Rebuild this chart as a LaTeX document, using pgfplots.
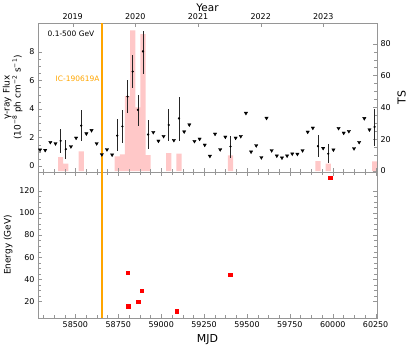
\documentclass[border=0pt]{standalone}
\usepackage{fontspec}
\setmainfont{DejaVu Sans}
\usepackage{pgfplots}
\usepackage{pgfplotstable}
\pgfplotsset{compat=1.18}

\definecolor{tsbar}{RGB}{255,200,200}
\definecolor{icorange}{RGB}{255,165,0}
\definecolor{framegray}{RGB}{150,150,150}

% 30-day bins: TS of the bins with a detection
\pgfplotstableread{
mjd ts
58414 8.8
58444 4.6
58534 12.4
58744 9.2
58774 10.5
58804 47.0
58834 88.4
58864 40.0
58894 86.0
58924 10.0
59044 11.3
59104 11.0
59404 9.8
59914 6.3
59974 4.6
60244 6.0
}\tstab

% detections: flux and errors (1e-8 ph cm-2 s-1)
\pgfplotstableread{
mjd flux ep em
58414 1.76 0.84 0.83
58444 1.18 0.63 0.68
58534 2.83 1.07 1.07
58744 2.13 1.15 1.09
58774 2.78 1.16 1.16
58804 4.87 1.18 1.16
58834 6.62 1.15 1.13
58864 3.94 1.06 1.11
58894 8.04 1.45 1.56
58924 2.21 1.03 1.04
59044 2.88 1.11 1.14
59104 3.34 1.53 1.60
59404 1.37 0.72 0.79
59914 1.39 0.81 0.74
59974 0.86 0.65 0.63
60244 2.74 1.27 1.35
}\dettab

% upper limits
\pgfplotstableread{
mjd ul
58294 1.14
58324 1.11
58354 1.67
58384 1.58
58474 1.37
58504 1.97
58564 2.27
58594 2.50
58624 1.58
58654 0.81
58684 1.16
58714 0.79
58954 2.37
58984 1.76
59014 2.09
59074 1.81
59134 2.41
59164 2.90
59194 1.74
59224 1.90
59254 1.48
59284 0.70
59314 2.25
59344 1.16
59374 2.04
59434 1.97
59464 2.09
59494 3.71
59524 1.00
59554 1.44
59584 0.60
59614 3.36
59644 1.09
59674 0.72
59704 0.58
59734 0.72
59764 0.86
59794 0.84
59824 1.09
59854 2.39
59884 2.67
59944 1.25
60004 1.14
60034 2.65
60064 2.32
60094 2.44
60124 1.23
60154 1.67
60184 3.34
60214 2.55
}\ultab

% photon energies
\pgfplotstableread{
mjd energy
58805 46.2
58808 15.8
58866 20.0
58886 29.9
59092 11.0
59403 44.1
59986 132.0
}\phtab

\pgfplotsset{
  lcbase/.style={
    width=339bp, scale only axis,
    xmin=58282, xmax=60258,
    axis line style={framegray}, tick style={framegray},
    /pgf/number format/assume math mode=true,
    /pgf/number format/1000 sep={},
    scaled x ticks=false,
    tick label style={font=\fontsize{8}{9}\selectfont},
    label style={font=\fontsize{9}{10}\selectfont},
    xtick={58500,58750,59000,59250,59500,59750,60000,60250},
    minor xtick={58312.5,58375,58437.5,58562.5,58625,58687.5,58812.5,58875,58937.5,
      59062.5,59125,59187.5,59312.5,59375,59437.5,59562.5,59625,59687.5,
      59812.5,59875,59937.5,60062.5,60125,60187.5},
  },
  % thinner strokes come out grey in the preview
  icline/.style={draw=icorange, line width=2pt, mark=none},
}

\begin{document}
\begin{tikzpicture}
\useasboundingbox (-38bp,-27bp) rectangle (369bp,318bp);

% TS bars, right axis, with the year scale on top
\begin{axis}[lcbase, at={(0,146bp)}, anchor=south west, height=149bp,
  ymin=-0.6, ymax=93,
  axis x line*=top, axis y line*=right,
  xtick={58484,58849,59215,59580,59945},
  xticklabels={2019,2020,2021,2022,2023},
  minor xtick={},
  ytick={0,20,40,60,80}, minor y tick num=3,
  xlabel={Year}, ylabel={TS},
  xlabel style={font=\fontsize{10.5}{12}\selectfont, inner sep=0pt, yshift=-1.5bp},
  ylabel style={font=\fontsize{11}{12}\selectfont},
]
\addplot[ybar, bar width=30, bar shift=0pt, fill=tsbar, draw=none]
  table[x=mjd, y=ts] {\tstab};
\end{axis}

% light curve
\begin{axis}[lcbase, at={(0,146bp)}, anchor=south west, height=149bp,
  ymin=-0.42, ymax=10.03,
  xticklabels={}, xtick pos=bottom, ytick pos=left,
  ytick={0,2,4,6,8}, minor y tick num=3,
  ylabel={γ-ray Flux\\(10\textsuperscript{−8} ph cm\textsuperscript{−2} s\textsuperscript{−1})},
  ylabel style={align=center},
]
\addplot[icline] coordinates {(58653,-0.42) (58653,10.03)};
\addplot[only marks, mark=triangle*, mark size=1.9pt,
  mark options={rotate=180, fill=black, draw=black}]
  table[x=mjd, y=ul] {\ultab};
\addplot[only marks, mark=*, mark size=0.9pt, black,
  error bars/.cd, y dir=both, y explicit, error mark=none,
  error bar style={line width=0.6pt, black!85}]
  table[x=mjd, y=flux, y error plus=ep, y error minus=em] {\dettab};
\node[anchor=west, font=\fontsize{7.5}{9}\selectfont] at (rel axis cs:0.018,0.926) {0.1-500 GeV};
\node[anchor=east, inner sep=2pt, text=icorange, font=\fontsize{7.5}{9}\selectfont]
  at (axis cs:58653,6.1) {IC-190619A};
\end{axis}

% photon energies
\begin{axis}[lcbase, at={(0,0)}, anchor=south west, height=146bp,
  ymin=5, ymax=137,
  ytick={20,40,60,80,100,120}, minor y tick num=3,
  xlabel={MJD}, ylabel={Energy (GeV)},
  xlabel style={font=\fontsize{11}{12}\selectfont},
]
\addplot[icline] coordinates {(58653,5) (58653,137)};
\addplot[only marks, mark=square*, mark size=1.7pt, red]
  table[x=mjd, y=energy] {\phtab};
\end{axis}
\end{tikzpicture}
\end{document}
